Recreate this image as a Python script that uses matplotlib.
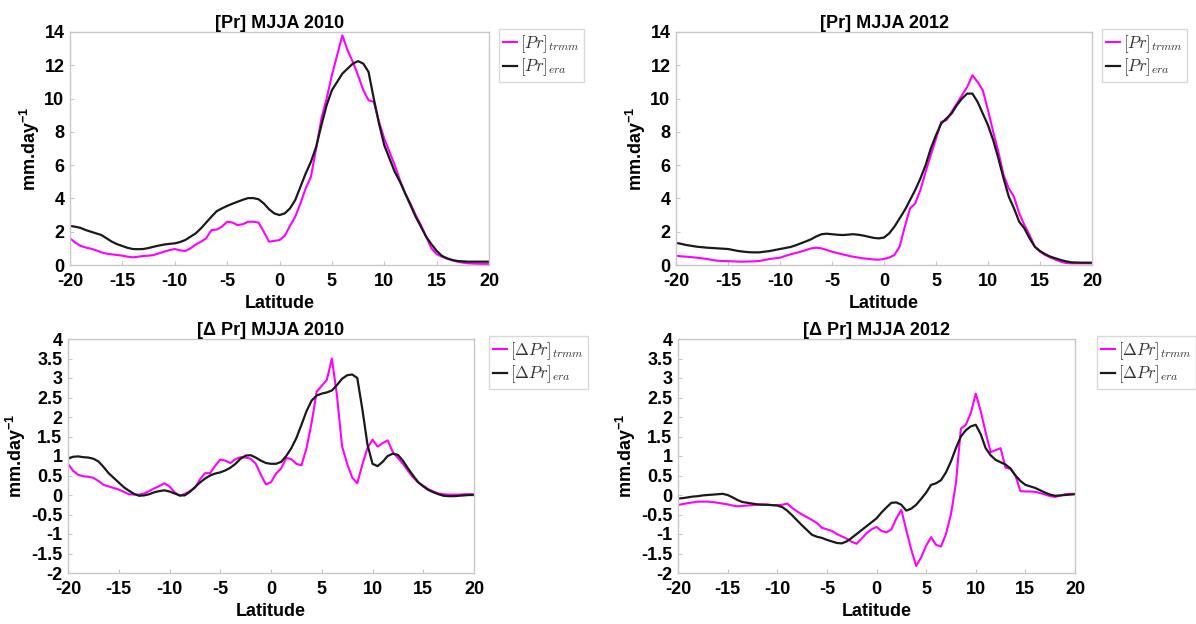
import numpy as np
import matplotlib
matplotlib.use("Agg")
import matplotlib.pyplot as plt

plt.rcParams['font.family'] = ['Liberation Sans', 'DejaVu Sans']
plt.rcParams['font.weight'] = 'bold'
plt.rcParams['mathtext.fontset'] = 'custom'
plt.rcParams['mathtext.rm'] = 'Liberation Sans:bold'
plt.rcParams['mathtext.bf'] = 'Liberation Sans:bold'

# latitude grid (0.5 deg)
lat = np.arange(-20, 20.5, 0.5)

pr_trmm_2010 = [1.6, 1.35, 1.15, 1.05, 0.98, 0.88, 0.76, 0.68, 0.64, 0.6, 0.56, 0.5, 0.46, 0.5, 0.54, 0.56, 0.6,
                0.7, 0.8, 0.9, 0.96, 0.88, 0.84, 1.0, 1.23, 1.4, 1.6, 2.1, 2.13, 2.3, 2.6, 2.55, 2.4, 2.45, 2.6,
                2.6, 2.55, 2.0, 1.4, 1.45, 1.5, 1.75, 2.35, 2.9, 3.7, 4.6, 5.3, 7.0, 8.8, 10.0, 11.4, 12.6, 13.8,
                12.9, 12.2, 11.4, 10.5, 9.9, 9.8, 8.6, 7.6, 6.8, 6.0, 5.1, 4.3, 3.7, 3.0, 2.4, 1.7, 1.0, 0.65,
                0.5, 0.38, 0.28, 0.2, 0.14, 0.1, 0.08, 0.07, 0.06, 0.06]
pr_era_2010 = [2.35, 2.3, 2.23, 2.1, 2.0, 1.9, 1.8, 1.6, 1.4, 1.25, 1.14, 1.03, 0.96, 0.95, 0.96, 1.02, 1.1,
               1.17, 1.23, 1.27, 1.3, 1.38, 1.5, 1.7, 1.9, 2.2, 2.55, 2.9, 3.23, 3.4, 3.55, 3.68, 3.8, 3.92,
               4.02, 4.02, 3.95, 3.7, 3.35, 3.1, 3.0, 3.1, 3.4, 3.9, 4.7, 5.5, 6.2, 7.1, 8.4, 9.6, 10.5, 11.0,
               11.5, 11.8, 12.1, 12.25, 12.1, 11.6, 10.0, 8.5, 7.2, 6.4, 5.6, 5.0, 4.3, 3.6, 2.9, 2.3, 1.7,
               1.25, 0.85, 0.55, 0.4, 0.3, 0.24, 0.22, 0.2, 0.2, 0.2, 0.2, 0.2]

pr_trmm_2012 = [0.56, 0.52, 0.5, 0.47, 0.44, 0.4, 0.36, 0.3, 0.26, 0.24, 0.23, 0.22, 0.2, 0.2, 0.21, 0.22,
                0.24, 0.3, 0.36, 0.4, 0.44, 0.54, 0.64, 0.72, 0.8, 0.9, 1.0, 1.04, 1.0, 0.9, 0.8, 0.72, 0.64,
                0.57, 0.5, 0.45, 0.4, 0.37, 0.33, 0.32, 0.36, 0.45, 0.6, 1.1, 2.3, 3.4, 3.7, 4.5, 5.6, 6.6,
                7.6, 8.6, 8.7, 9.2, 9.7, 10.2, 10.7, 11.4, 11.0, 10.5, 9.3, 8.0, 6.8, 5.4, 4.6, 4.1, 3.1,
                2.4, 1.8, 1.1, 0.8, 0.6, 0.45, 0.32, 0.2, 0.12, 0.1, 0.1, 0.1, 0.1, 0.1]
pr_era_2012 = [1.33, 1.27, 1.2, 1.15, 1.1, 1.07, 1.04, 1.02, 1.0, 0.98, 0.96, 0.9, 0.84, 0.8, 0.77, 0.76,
               0.76, 0.8, 0.84, 0.9, 0.96, 1.02, 1.08, 1.18, 1.3, 1.42, 1.55, 1.72, 1.85, 1.88, 1.85, 1.82,
               1.8, 1.82, 1.85, 1.82, 1.77, 1.7, 1.63, 1.6, 1.65, 1.9, 2.3, 2.8, 3.3, 3.9, 4.5, 5.2, 6.0,
               7.0, 7.8, 8.5, 8.8, 9.1, 9.6, 10.0, 10.3, 10.3, 9.8, 9.1, 8.4, 7.5, 6.4, 5.2, 4.1, 3.4, 2.6,
               2.2, 1.6, 1.1, 0.84, 0.65, 0.5, 0.4, 0.3, 0.22, 0.16, 0.15, 0.14, 0.14, 0.14]

dpr_trmm_2010 = [0.8, 0.62, 0.52, 0.48, 0.47, 0.44, 0.36, 0.26, 0.22, 0.18, 0.14, 0.08, 0.02, 0.01, 0.01,
                 0.04, 0.1, 0.17, 0.23, 0.3, 0.22, 0.07, -0.02, 0.03, 0.1, 0.18, 0.4, 0.56, 0.56, 0.75, 0.91,
                 0.88, 0.82, 0.92, 0.97, 0.96, 0.93, 0.8, 0.52, 0.27, 0.33, 0.55, 0.68, 0.95, 0.92, 0.8,
                 0.76, 1.2, 1.85, 2.65, 2.8, 2.95, 3.5, 2.55, 1.25, 0.8, 0.45, 0.3, 0.78, 1.2, 1.42, 1.24,
                 1.33, 1.4, 1.1, 0.95, 0.8, 0.62, 0.45, 0.32, 0.24, 0.15, 0.09, 0.04, 0.02, 0.01, 0.01,
                 0.01, 0.02, 0.02, 0.02]
dpr_era_2010 = [0.93, 0.98, 0.99, 0.97, 0.96, 0.93, 0.86, 0.72, 0.56, 0.44, 0.32, 0.2, 0.11, 0.03, -0.02,
                -0.01, 0.02, 0.07, 0.1, 0.12, 0.09, 0.04, -0.01, -0.01, 0.08, 0.2, 0.32, 0.42, 0.5, 0.55,
                0.58, 0.63, 0.7, 0.8, 0.93, 1.01, 1.02, 0.96, 0.88, 0.82, 0.8, 0.8, 0.85, 1.0, 1.2, 1.46,
                1.8, 2.15, 2.42, 2.55, 2.6, 2.63, 2.68, 2.82, 2.98, 3.07, 3.09, 3.0, 2.2, 1.3, 0.8, 0.74,
                0.85, 1.0, 1.06, 1.03, 0.88, 0.68, 0.5, 0.33, 0.22, 0.13, 0.07, 0.02, -0.02, -0.03, -0.03,
                -0.02, -0.01, 0.0, 0.0]

dpr_trmm_2012 = [-0.26, -0.23, -0.21, -0.19, -0.17, -0.17, -0.17, -0.18, -0.2, -0.22, -0.24, -0.27, -0.29,
                 -0.28, -0.27, -0.26, -0.25, -0.24, -0.25, -0.26, -0.26, -0.25, -0.22, -0.33, -0.42, -0.5,
                 -0.57, -0.64, -0.72, -0.84, -0.88, -0.92, -1.0, -1.06, -1.12, -1.2, -1.25, -1.12, -0.98,
                 -0.88, -0.82, -0.92, -0.96, -0.88, -0.6, -0.38, -0.9, -1.4, -1.82, -1.6, -1.3, -1.08,
                 -1.28, -1.32, -1.0, -0.5, 0.3, 1.7, 1.8, 2.1, 2.6, 2.15, 1.6, 1.1, 1.15, 1.2, 0.7, 0.67,
                 0.5, 0.1, 0.09, 0.09, 0.08, 0.05, 0.01, -0.03, -0.05, -0.02, 0.02, 0.03, 0.03]
dpr_era_2012 = [-0.09, -0.08, -0.06, -0.04, -0.03, -0.01, 0.0, 0.01, 0.02, 0.03, 0.0, -0.06, -0.13, -0.18,
                -0.2, -0.22, -0.24, -0.25, -0.25, -0.26, -0.27, -0.31, -0.4, -0.52, -0.65, -0.78, -0.9,
                -1.02, -1.07, -1.1, -1.15, -1.19, -1.23, -1.24, -1.19, -1.1, -1.0, -0.9, -0.8, -0.7, -0.6,
                -0.45, -0.32, -0.2, -0.19, -0.25, -0.4, -0.35, -0.25, -0.1, 0.06, 0.26, 0.3, 0.38, 0.58,
                0.86, 1.2, 1.5, 1.66, 1.76, 1.8, 1.56, 1.2, 1.02, 0.9, 0.84, 0.78, 0.68, 0.5, 0.36, 0.26,
                0.22, 0.18, 0.12, 0.06, 0.01, -0.02, -0.01, 0.0, 0.01, 0.02]

xticks = [-20, -15, -10, -5, 0, 5, 10, 15, 20]
pr_yticks = [0, 2, 4, 6, 8, 10, 12, 14]
dpr_yticks = [-2, -1.5, -1, -0.5, 0, 0.5, 1, 1.5, 2, 2.5, 3, 3.5, 4]

W, H = 1196, 624
fig = plt.figure(figsize=(W / 100, H / 100), dpi=100)
fig.patch.set_facecolor('white')


def px_axes(l, t, r, b):
    return fig.add_axes([l / W, 1 - b / H, (r - l) / W, (b - t) / H])


panels = [
    # (box px, title, trmm, era, yticks, ylim, legend anchor px, delta?)
    ((70, 32, 489, 265), '[Pr] MJJA 2010', pr_trmm_2010, pr_era_2010, pr_yticks, (0, 14), (499, 29), False),
    ((676, 32, 1092, 265), '[Pr] MJJA 2012', pr_trmm_2012, pr_era_2012, pr_yticks, (0, 14), (1102, 29), False),
    ((68, 339, 474, 573), '[Δ Pr] MJJA 2010', dpr_trmm_2010, dpr_era_2010, dpr_yticks, (-2, 4), (489, 336), True),
    ((678, 339, 1075, 573), '[Δ Pr] MJJA 2012', dpr_trmm_2012, dpr_era_2012, dpr_yticks, (-2, 4), (1097, 336), True),
]

for box, title, trmm, era, yt, yl, leg, delta in panels:
    ax = px_axes(*box)
    if delta:
        lab_t = r'$[\Delta Pr]_{trmm}$'
        lab_e = r'$[\Delta Pr]_{era}$'
    else:
        lab_t = r'$[Pr]_{trmm}$'
        lab_e = r'$[Pr]_{era}$'
    ax.plot(lat, trmm, color='#ff00ff', lw=1.5, label=lab_t)
    ax.plot(lat, era, color='#1a1a1a', lw=1.6, label=lab_e)
    ax.set_xlim(-20, 20)
    ax.set_ylim(*yl)
    ax.set_xticks(xticks)
    ax.set_xticklabels([str(v) for v in xticks])
    ax.set_yticks(yt)
    ax.set_yticklabels([('%g' % v) for v in yt])
    ax.tick_params(direction='in', length=3, color='#c8c8c8', labelsize=13)
    ax.tick_params(axis='x', pad=6)
    ax.tick_params(axis='y', pad=4)
    for lb in ax.get_xticklabels() + ax.get_yticklabels():
        lb.set_fontweight('bold')
    for sp in ax.spines.values():
        sp.set_color('#c8c8c8')
        sp.set_linewidth(1.0)
    ax.set_title(title, fontsize=13, fontweight='bold', pad=3)
    ax.set_xlabel('Latitude', fontsize=13, fontweight='bold', labelpad=3)
    ax.set_ylabel(r'mm.day$^{-1}$', fontsize=13, fontweight='bold', labelpad=2)
    ax.legend(loc='upper left', bbox_to_anchor=(leg[0] / W, 1 - leg[1] / H),
              bbox_transform=fig.transFigure, prop=dict(size=12, math_fontfamily='cm'),
              handlelength=0.8, handletextpad=0.2, labelspacing=0.1, borderpad=0.25,
              borderaxespad=0, frameon=True, fancybox=False, edgecolor='#d0d0d0',
              labelcolor='#333333')

fig.savefig('out.png', dpi=100)
